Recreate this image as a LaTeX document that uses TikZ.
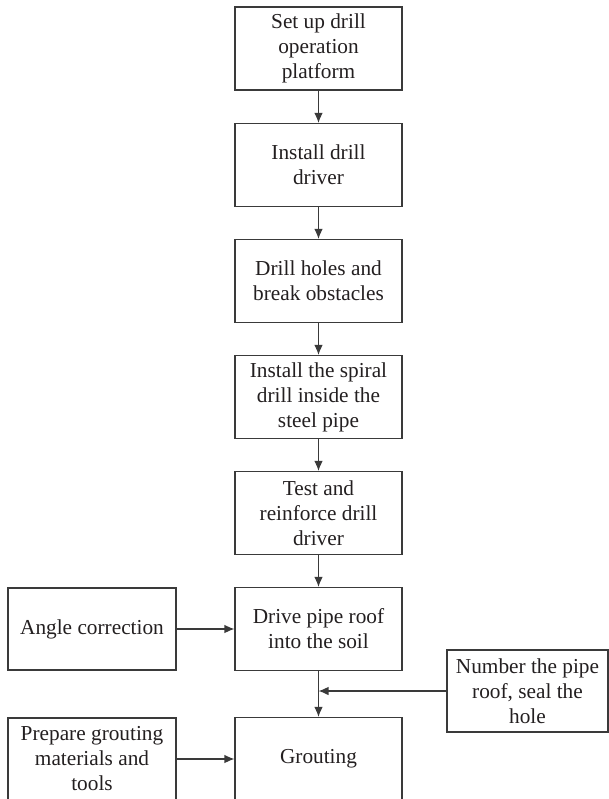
\documentclass[tikz,border=0pt]{standalone}
\usepackage{fontspec}
\setmainfont{Liberation Serif}
\usetikzlibrary{arrows.meta}
\definecolor{ln}{HTML}{3A3A3A}
\definecolor{tx}{HTML}{231F20}
\begin{document}
\begin{tikzpicture}[x=1pt,y=-1pt,
  box/.style={draw=ln,line width=1.1pt,rectangle,inner sep=0pt,align=center,
    text=tx,font=\fontsize{21.3}{25}\selectfont},
  mainbox/.style={box,minimum width=167pt,minimum height=83pt},
  arr/.style={draw=ln,line width=1.1pt,-{Latex[length=10pt,width=8.5pt]}}]
\useasboundingbox (0,0) rectangle (609,799);
\node[mainbox] (b1) at (318.5,48.5) {Set up drill\\operation\\platform};
\node[mainbox] (b2) at (318.5,165) {Install drill\\driver};
\node[mainbox] (b3) at (318.5,281) {Drill holes and\\break obstacles};
\node[mainbox] (b4) at (318.5,397) {Install the spiral\\drill inside the\\steel pipe};
\node[mainbox] (b5) at (318.5,513) {Test and\\reinforce drill\\driver};
\node[mainbox] (b6) at (318.5,629) {Drive pipe roof\\into the soil};
\node[mainbox] (b7) at (318.5,759) {Grouting};
\node[box,minimum width=168pt,minimum height=82pt] (ang) at (92,629) {Angle correction};
\node[box,minimum width=168pt,minimum height=82pt] (prep) at (92,759) {Prepare grouting\\materials and\\tools};
\node[box,minimum width=161pt,minimum height=82pt] (num) at (527.5,691) {Number the pipe\\roof, seal the\\hole};
\coordinate (j) at (318.5,691);
\draw[arr] (b1) -- (b2);
\draw[arr] (b2) -- (b3);
\draw[arr] (b3) -- (b4);
\draw[arr] (b4) -- (b5);
\draw[arr] (b5) -- (b6);
\draw[arr] (b6) -- (b7);
\draw[arr] (ang) -- (b6);
\draw[arr] (prep) -- (b7);
\draw[arr] (num) -- (j);
\end{tikzpicture}
\end{document}
